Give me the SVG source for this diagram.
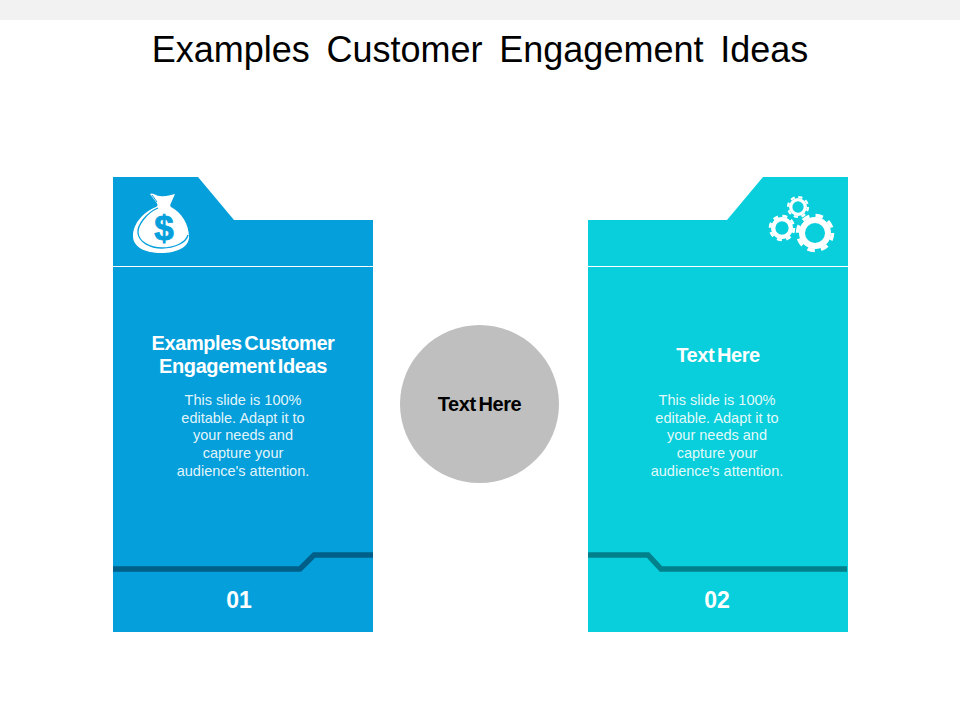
<svg xmlns="http://www.w3.org/2000/svg" width="960" height="720" viewBox="0 0 960 720">
<style>
text{font-family:"Liberation Sans",Arial,sans-serif;text-anchor:middle}
.h{font-size:20px;font-weight:bold;fill:#fff;letter-spacing:-.4px;word-spacing:-2.500px}
.b{font-size:14.500px;fill:#fff;fill-opacity:.9}
.n{font-size:23px;font-weight:bold;fill:#fff}
.rule{stroke:#fff;stroke-width:1;fill:none}
.step{stroke-width:5.500;fill:none}
.g{fill:none;stroke:#fff}
</style>
<rect width="960" height="720" fill="#fff"/>
<rect width="960" height="20" fill="#f2f2f2"/>
<text id="title" x="480" y="62" font-size="36" word-spacing="6.700" fill="#000">Examples Customer Engagement Ideas</text>
<g id="card1">
<path d="M113 177H198L234 220H373V632H113Z" fill="#059fdb"/>
<path class="rule" d="M113 266.500H373"/>
<path class="step" stroke="#005f88" d="M113 569H300L314 555H373"/>
<g id="money-bag">
<path fill="#fff" d="M150 194C153 192 156 196 160 196C165 197 170 195 175 194L171 203C170 205 170 206 171 207C181 212 189 224 189 237C189 247 177 253 161 253C145 253 133 247 133 236C133 224 143 212 156 207C158 206 158 204 156 202Z"/>
<path fill="none" stroke="#059fdb" stroke-width="1.300" d="M158 208C146 213 137 226 138 233C139 242 150 248 162 248C174 248 186 243 188 235"/>
<path fill="none" stroke="#059fdb" stroke-width="1" d="M152 195L157 202"/>
<text x="164" y="240" font-size="35" font-weight="bold" stroke="#059fdb" stroke-width=".8" style="fill:#059fdb">$</text>
</g>
<text class="h" x="243" y="350">Examples Customer</text>
<text class="h" x="243" y="373">Engagement Ideas</text>
<text class="b" x="243" y="405">This slide is 100%</text>
<text class="b" x="243" y="423">editable. Adapt it to</text>
<text class="b" x="243" y="440">your needs and</text>
<text class="b" x="243" y="458">capture your</text>
<text class="b" x="243" y="476">audience's attention.</text>
<text class="n" x="239" y="608">01</text>
</g>
<g id="hub">
<ellipse cx="479.500" cy="404" rx="79.500" ry="79" fill="#bfbfbf"/>
<text class="h" x="479.500" y="411" style="fill:#000">Text Here</text>
</g>
<g id="card2">
<path d="M588 220H727L763 177H848V632H588Z" fill="#08cfdb"/>
<path class="rule" d="M588 266.500H848"/>
<path class="step" stroke="#00808a" d="M588 555H648L661 569H847"/>
<g id="gears">
<circle class="g" cx="815" cy="233" r="13" stroke-width="6"/>
<circle class="g" cx="815" cy="233" r="17.500" stroke-width="3.500" stroke-dasharray="7.500 6.245"/>
<circle class="g" cx="782" cy="228" r="8.800" stroke-width="4.300"/>
<circle class="g" cx="782" cy="228" r="12" stroke-width="2.600" stroke-dasharray="5 4.425"/>
<circle class="g" cx="798" cy="207" r="7.300" stroke-width="3.300"/>
<circle class="g" cx="798" cy="207" r="10" stroke-width="2.200" stroke-dasharray="4.200 3.654"/>
</g>
<text class="h" x="718" y="362">Text Here</text>
<text class="b" x="717" y="405">This slide is 100%</text>
<text class="b" x="717" y="423">editable. Adapt it to</text>
<text class="b" x="717" y="440">your needs and</text>
<text class="b" x="717" y="458">capture your</text>
<text class="b" x="717" y="476">audience's attention.</text>
<text class="n" x="717" y="608">02</text>
</g>
</svg>
